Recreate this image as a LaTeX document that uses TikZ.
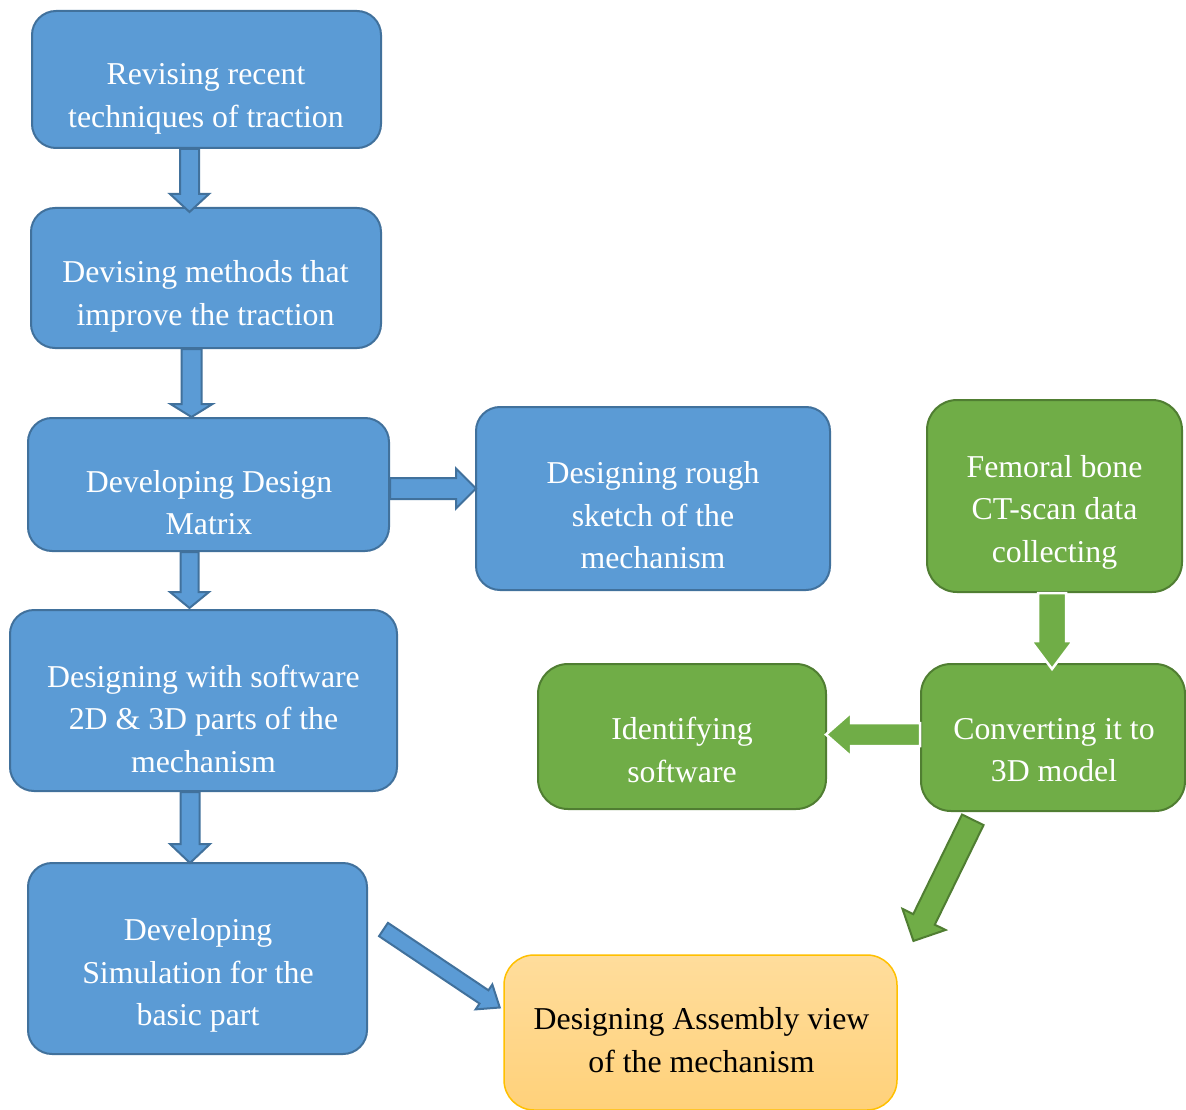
\documentclass[tikz,border=0pt]{standalone}
\usepackage{fontspec}
\setmainfont{Liberation Serif}
\usetikzlibrary{calc}
\definecolor{bfill}{HTML}{5B9BD5}
\definecolor{bline}{HTML}{41719C}
\definecolor{gfill}{HTML}{70AD47}
\definecolor{gline}{HTML}{507E32}
\definecolor{ytop}{RGB}{255,221,156}
\definecolor{ybot}{RGB}{255,209,122}
\definecolor{yline}{HTML}{FFC000}
\newcommand\ms{\rule[-7pt]{0pt}{22pt}}
\newcommand\blockarrow[6]{%
  \coordinate (bas) at (#2);
  \coordinate (bae) at (#3);
  \coordinate (bah) at ($(bae)!#6!(bas)$);
  \path[#1] ($(bas)!#4!90:(bae)$) -- ($(bah)!#4!90:(bae)$) -- ($(bah)!#5!90:(bae)$) -- (bae)
    -- ($(bah)!#5!-90:(bae)$) -- ($(bah)!#4!-90:(bae)$) -- ($(bas)!#4!-90:(bae)$) -- cycle;}
\begin{document}
\begin{tikzpicture}[x=1pt,y=-1pt,
  box/.style={rectangle, rounded corners=24pt, line width=2pt, inner sep=0pt},
  bluebox/.style={box, fill=bfill, draw=bline},
  greenbox/.style={box, fill=gfill, draw=gline, rounded corners=30pt},
  yellowbox/.style={box, top color=ytop, bottom color=ybot, draw=yline, line width=1.5pt, rounded corners=30pt},
  txt/.style={align=center, font=\fontsize{31.8}{42.5}\selectfont, text=white, inner sep=0pt, yshift=-3.5pt},
  barrow/.style={fill=bfill, draw=bline, line width=2pt, line join=miter},
  garrow/.style={fill=gfill, draw=white, line width=2.5pt, line join=miter},
  garrowd/.style={fill=gfill, draw=gline, line width=2pt, line join=miter}]
\useasboundingbox (0,0) rectangle (1186,1110);
\fill[white] (0,0) rectangle (1186,1110);

% boxes
\node[bluebox, minimum width=349pt, minimum height=137pt] (r1) at (206.5,79.5) {};
\node[bluebox, minimum width=350pt, minimum height=140pt] (r2) at (206,278) {};
\node[bluebox, minimum width=361pt, minimum height=133pt] (r3) at (208.5,484.5) {};
\node[bluebox, minimum width=354pt, minimum height=183pt] (r4) at (653,498.5) {};
\node[greenbox, minimum width=255pt, minimum height=192pt] (g1) at (1054.5,496) {};
\node[bluebox, minimum width=387pt, minimum height=181pt] (r5) at (203.5,700.5) {};
\node[greenbox, minimum width=288pt, minimum height=145pt] (g3) at (682,736.5) {};
\node[greenbox, minimum width=264pt, minimum height=147pt] (g2) at (1053,737.5) {};
\node[bluebox, minimum width=339pt, minimum height=191pt] (r6) at (197.5,958.5) {};
\node[yellowbox, minimum width=393pt, minimum height=155pt] (y1) at (700.5,1032.5) {};

% texts
\node[txt] (t1) at (206,95.5) {\ms Revising recent\\\ms techniques of traction};
\node[txt] (t2) at (205.5,293) {\ms Devising methods that\\\ms improve the traction};
\node[txt] (t3) at (209,502.5) {\ms Developing Design\\\ms Matrix};
\node[txt] (t4) at (653,515) {\ms Designing rough\\\ms sketch of the\\\ms mechanism};
\node[txt] (t5) at (1054.5,508.5) {\ms Femoral bone\\\ms CT-scan data\\\ms collecting};
\node[txt] (t6) at (203.5,718.5) {\ms Designing with software\\\ms 2D \& 3D parts of the\\\ms mechanism};
\node[txt] (t7) at (682,750) {\ms Identifying\\\ms software};
\node[txt] (t8) at (1054,750) {\ms Converting it to\\\ms 3D model};
\node[txt] (t9) at (198,972) {\ms Developing\\\ms Simulation for the\\\ms basic part};
\node[txt, text=black] (t10) at (701.5,1040) {\ms Designing Assembly view\\\ms of the mechanism};

% arrows
\blockarrow{barrow}{189.5,0 |- r1.south}{$(189.5,0 |- r2.north)+(0,5)$}{9.5pt}{19.5pt}{18pt}
\blockarrow{barrow}{191.5,0 |- r2.south}{191.5,0 |- r3.north}{10pt}{21pt}{13pt}
\blockarrow{barrow}{189.5,0 |- r3.south}{$(189.5,0 |- r5.north)+(0,-1)$}{9pt}{19.5pt}{16pt}
\blockarrow{barrow}{190,0 |- r5.south}{$(190,0 |- r6.north)+(0,1)$}{9.5pt}{20pt}{19pt}
\blockarrow{barrow}{r3.east |- 0,488.5}{$(r4.west |- 0,488.5)+(1,0)$}{10.5pt}{20pt}{20pt}
\blockarrow{barrow}{$(r6.east)+(15.5,-29)$}{$(y1.west)+(-3.5,-25)$}{8pt}{15pt}{19pt}
\blockarrow{garrow}{1052,0 |- g1.south}{$(1052,0 |- g2.north)+(0,6)$}{14pt}{21pt}{28pt}
\blockarrow{garrow}{g2.west |- 0,734.5}{$(g3.east |- 0,734.5)+(-1,0)$}{11.5pt}{22pt}{25pt}
\blockarrow{garrowd}{$(g2.south)+(-80.2,7.8)$}{$(y1.north east)+(15.7,-13.3)$}{12pt}{24pt}{24pt}
\end{tikzpicture}
\end{document}
